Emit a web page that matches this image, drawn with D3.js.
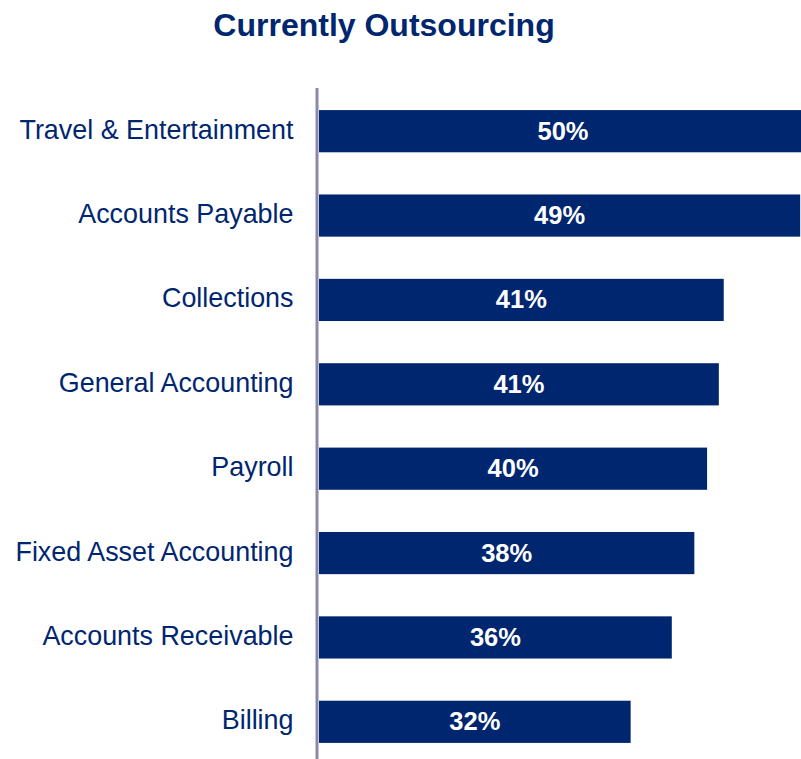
<!DOCTYPE html>
<html><head><meta charset="utf-8">
<script src="https://cdn.jsdelivr.net/npm/d3@7"></script>
<style>body{margin:0;background:#fff}svg{display:block}</style>
</head><body>
<svg id="c" width="801" height="759"></svg>
<script>
const categories = ["Travel & Entertainment","Accounts Payable","Collections","General Accounting","Payroll","Fixed Asset Accounting","Accounts Receivable","Billing"];
const values = [49.8, 49.1, 41.3, 40.8, 39.6, 38.3, 36.0, 31.8];
const valueLabels = ["50%","49%","41%","41%","40%","38%","36%","32%"];
const title = "Currently Outsourcing";

const navy = "#00266f";
const font = "Liberation Sans, Arial, sans-serif";
const svg = d3.select("#c");
const x = d3.scaleLinear().domain([0, 50]).range([319, 809]);
const y = d3.scaleBand().domain(categories).range([89, 764]).paddingInner(0.5).paddingOuter(0.25);

svg.append("text").attr("x", 384).attr("y", 36).attr("text-anchor", "middle")
  .attr("font-family", font).attr("font-weight", "bold")
  .attr("font-size", 32).attr("fill", navy).text(title);

svg.selectAll("rect.bar").data(categories).join("rect").attr("class","bar")
  .attr("x", x(0)).attr("y", d => y(d))
  .attr("width", (d,i) => x(values[i]) - x(0)).attr("height", y.bandwidth())
  .attr("fill", navy);

svg.append("line").attr("x1", 317).attr("x2", 317).attr("y1", 88).attr("y2", 759)
  .attr("stroke", "#8a8aa8").attr("stroke-width", 3);

svg.selectAll("text.cat").data(categories).join("text").attr("class","cat")
  .attr("x", 293.5).attr("y", d => y(d) + y.bandwidth()/2 + 7.5)
  .attr("text-anchor", "end").attr("font-family", font)
  .attr("font-size", 26.9).attr("fill", navy).text(d => d);

svg.selectAll("text.val").data(categories).join("text").attr("class","val")
  .attr("x", (d,i) => (x(0) + x(values[i]))/2).attr("y", d => y(d) + y.bandwidth()/2 + 8.5)
  .attr("text-anchor", "middle").attr("font-family", font)
  .attr("font-weight", "bold").attr("font-size", 25.5).attr("fill", "#fff").text((d,i) => valueLabels[i]);
</script>
</body></html>
